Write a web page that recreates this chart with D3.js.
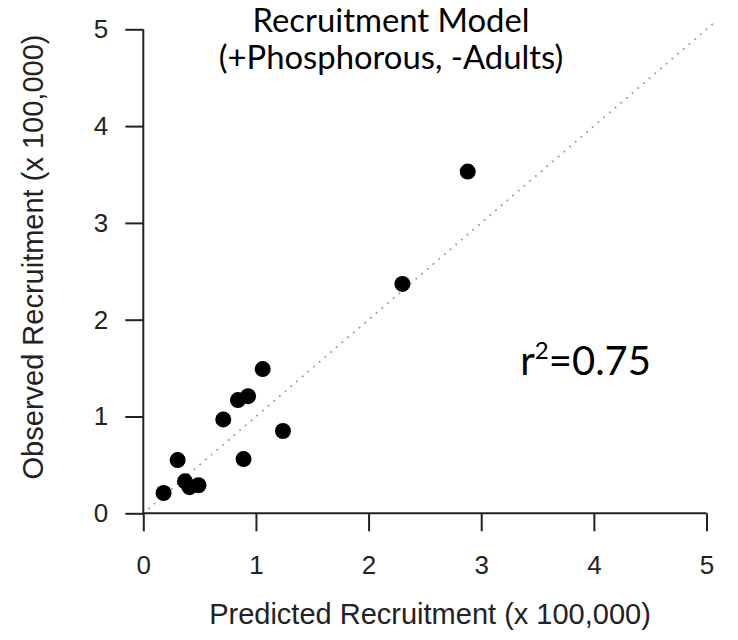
<!DOCTYPE html>
<html>
<head>
<meta charset="utf-8">
<script src="https://cdn.jsdelivr.net/npm/d3@7"></script>
<style>
  html, body { margin: 0; padding: 0; background: #fff; }
  svg { display: block; }
</style>
</head>
<body>
<svg id="chart" width="738" height="640"></svg>
<script>
// Predicted vs observed recruitment (units of 100,000)
const predicted = [0.18, 0.305, 0.37, 0.41, 0.49, 0.71, 0.84, 0.93, 0.89, 1.06, 1.24, 2.30, 2.88];
const observed  = [0.21, 0.55, 0.33, 0.27, 0.29, 0.97, 1.17, 1.21, 0.56, 1.49, 0.85, 2.37, 3.53];

const xTicks = [0, 1, 2, 3, 4, 5];
const yTicks = [0, 1, 2, 3, 4, 5];
const oneToOne = [0, 5.08];

const titleLines = ["Recruitment Model", "(+Phosphorous, -Adults)"];
const xTitle = "Predicted Recruitment (x 100,000)";
const yTitle = "Observed Recruitment (x 100,000)";
const r2Value = "0.75";

const svg = d3.select("#chart");

const x = d3.scaleLinear().domain([0, 5]).range([143.3, 706.5]);
const y = d3.scaleLinear().domain([0, 5]).range([513.3, 29.3]);

const axisFont = "'Liberation Sans', Arial, sans-serif";
const noteFont = "Lato, 'Open Sans', sans-serif";

// 1:1 reference line
svg.append("line")
  .attr("x1", x(oneToOne[0])).attr("y1", y(oneToOne[0]))
  .attr("x2", x(oneToOne[1])).attr("y2", y(oneToOne[1]))
  .attr("stroke", "#a0a0a0")
  .attr("stroke-width", 2)
  .attr("stroke-linecap", "round")
  .attr("stroke-dasharray", "0.1,7.4");

// Axes
const xAxis = d3.axisBottom(x).tickValues(xTicks).tickSize(18).tickPadding(24).tickFormat(d3.format("d"));
const yAxis = d3.axisLeft(y).tickValues(yTicks).tickSize(18).tickPadding(17).tickFormat(d3.format("d"));

const gx = svg.append("g").attr("transform", `translate(0,${y(0)})`).call(xAxis);
const gy = svg.append("g").attr("transform", `translate(${x(0)},0)`).call(yAxis);

[gx, gy].forEach(g => {
  g.select(".domain").attr("stroke", "#222").attr("stroke-width", 2);
  g.selectAll(".tick line").attr("stroke", "#222").attr("stroke-width", 2);
  g.selectAll(".tick text")
    .attr("fill", "#222")
    .style("font-family", axisFont)
    .style("font-size", "26px");
});
gx.select(".domain").attr("d", `M${x(0)},0H${x(5)}`);
gy.select(".domain").attr("d", `M0,${y(0)}V${y(5)}`);

// Points
svg.append("g").selectAll("circle")
  .data(predicted.map((p, i) => [p, observed[i]]))
  .join("circle")
  .attr("cx", d => x(d[0]))
  .attr("cy", d => y(d[1]))
  .attr("r", 8)
  .attr("fill", "#000");

// Axis titles
svg.append("text")
  .attr("x", 430).attr("y", 624)
  .attr("text-anchor", "middle")
  .style("font-family", axisFont).style("font-size", "29px")
  .attr("fill", "#222")
  .text(xTitle);

svg.append("text")
  .attr("transform", `translate(43,257) rotate(-90)`)
  .attr("text-anchor", "middle")
  .style("font-family", axisFont).style("font-size", "29px")
  .attr("fill", "#222")
  .text(yTitle);

// Title, sized so the first line spans about 277px
const title = svg.append("g").selectAll("text")
  .data(titleLines)
  .join("text")
  .attr("x", 391)
  .attr("y", (d, i) => 32 + i * 37)
  .attr("text-anchor", "middle")
  .style("font-family", noteFont).style("font-size", "30px")
  .attr("fill", "#000")
  .text(d => d);
const w0 = title.node().getComputedTextLength();
title.style("font-size", (30 * 277 / w0).toFixed(2) + "px");

// r-squared note
const r2 = svg.append("text")
  .attr("x", 651).attr("y", 375)
  .attr("text-anchor", "end")
  .style("font-family", noteFont).style("font-size", "40px")
  .attr("fill", "#000");
r2.append("tspan").text("r");
r2.append("tspan").attr("dy", -16).style("font-size", "24px").text("2");
r2.append("tspan").attr("dy", 16).text("=" + r2Value);
</script>
</body>
</html>
